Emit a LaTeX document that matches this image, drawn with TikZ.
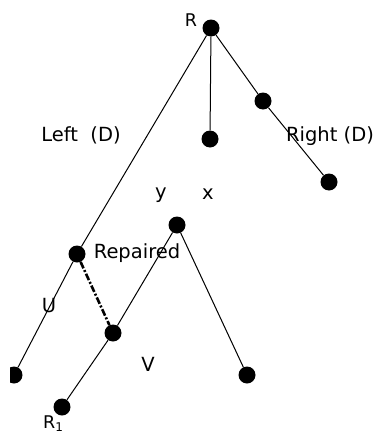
\documentclass[tikz,border=0pt]{standalone}
\usepackage{fontspec}
\setmainfont{DejaVu Sans}
\begin{document}
\begin{tikzpicture}[x=1pt,y=-1pt,
  dot/.style={circle,fill=black,inner sep=0pt,minimum size=17pt},
  edge/.style={draw=black,line width=1pt},
  repair/.style={draw=black,line width=2.6pt,dash pattern=on 7pt off 2pt on 2pt off 2pt},
  lbl/.style={font=\fontsize{19.5}{22}\selectfont,inner sep=0pt,anchor=base},
  slbl/.style={font=\fontsize{17.5}{20}\selectfont,inner sep=0pt,anchor=base}]
\useasboundingbox[fill=white] (0,0) rectangle (377,434);
\node[dot] (R) at (211,28) {};
\node[dot] (X) at (210,139) {};
\node[dot] (Q) at (263,101) {};
\node[dot] (P) at (329,182) {};
\node[dot] (A) at (77,254) {};
\begin{scope}
\clip (10,0) rectangle (377,434);
\node[dot] (L) at (14,375) {};
\end{scope}
\node[dot] (Y) at (177,225) {};
\node[dot] (V) at (113,333) {};
\node[dot] (S) at (62,407) {};
\node[dot] (B) at (247,375) {};
\draw[edge] (R) -- (X);
\draw[edge] (R) -- (Q);
\draw[edge] (Q) -- (P);
\draw[edge] (R) -- (A);
\draw[edge] (A) -- (L);
\draw[edge] (Y) -- (V);
\draw[edge] (V) -- (S);
\draw[edge] (Y) -- (B);
\draw[repair] (A) -- (V);
\node[slbl] (tR) at (191,26) {R};
\node[lbl] (tL) at (81,141) {Left\ \ (D)};
\node[lbl] (tRt) at (330,141) {Right (D)};
\node[lbl] (ty) at (161,198) {y};
\node[lbl] (tx) at (208,199) {x};
\node[lbl] (tRep) at (137,258) {Repaired};
\node[lbl] (tU) at (49,312) {U};
\node[lbl] (tV) at (148,371) {V};
\node[slbl] (tR1) at (53,428) {R\raisebox{-3pt}{\fontsize{12}{12}\selectfont 1}};
\end{tikzpicture}
\end{document}
